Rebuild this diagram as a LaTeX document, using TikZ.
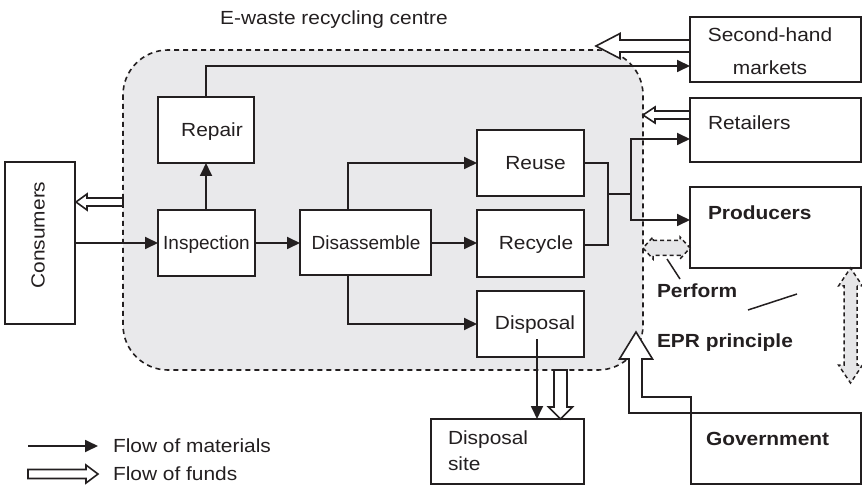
\documentclass[tikz,border=0pt]{standalone}
\usepackage{fontspec}
\setmainfont{Liberation Sans}[FakeStretch=1.1]
\newfontfamily\narrowsans{Liberation Sans}
\usetikzlibrary{arrows.meta,calc}

\definecolor{ink}{HTML}{231F20}
\definecolor{zone}{HTML}{E9E9EB}
\definecolor{shared}{HTML}{E6E6E8}

% hollow one-headed arrow: style, tail, tip, shaft half-width, head half-width, head length
\newcommand\hollowarrow[6]{%
  \draw[#1] let \p1=(#2), \p2=(#3), \n1={veclen(\x2-\x1,\y2-\y1)},
      \n2={(\x2-\x1)/\n1}, \n3={(\y2-\y1)/\n1} in
    (\x1-#4pt*\n3, \y1+#4pt*\n2)
    -- (\x2-#6pt*\n2-#4pt*\n3, \y2-#6pt*\n3+#4pt*\n2)
    -- (\x2-#6pt*\n2-#5pt*\n3, \y2-#6pt*\n3+#5pt*\n2)
    -- (\x2,\y2)
    -- (\x2-#6pt*\n2+#5pt*\n3, \y2-#6pt*\n3-#5pt*\n2)
    -- (\x2-#6pt*\n2+#4pt*\n3, \y2-#6pt*\n3-#4pt*\n2)
    -- (\x1+#4pt*\n3, \y1-#4pt*\n2) -- cycle;}

% hollow two-headed arrow: style, end A, end B, shaft half-width, head half-width, head length
\newcommand\twowayarrow[6]{%
  \draw[#1] let \p1=(#2), \p2=(#3), \n1={veclen(\x2-\x1,\y2-\y1)},
      \n2={(\x2-\x1)/\n1}, \n3={(\y2-\y1)/\n1} in
    (\x1+#6pt*\n2-#4pt*\n3, \y1+#6pt*\n3+#4pt*\n2)
    -- (\x2-#6pt*\n2-#4pt*\n3, \y2-#6pt*\n3+#4pt*\n2)
    -- (\x2-#6pt*\n2-#5pt*\n3, \y2-#6pt*\n3+#5pt*\n2)
    -- (\x2,\y2)
    -- (\x2-#6pt*\n2+#5pt*\n3, \y2-#6pt*\n3-#5pt*\n2)
    -- (\x2-#6pt*\n2+#4pt*\n3, \y2-#6pt*\n3-#4pt*\n2)
    -- (\x1+#6pt*\n2+#4pt*\n3, \y1+#6pt*\n3-#4pt*\n2)
    -- (\x1+#6pt*\n2+#5pt*\n3, \y1+#6pt*\n3-#5pt*\n2)
    -- (\x1,\y1)
    -- (\x1+#6pt*\n2-#5pt*\n3, \y1+#6pt*\n3+#5pt*\n2) -- cycle;}

\begin{document}
\begin{tikzpicture}[x=1pt,y=-1pt,
  every node/.style={inner sep=0pt, outer sep=0pt},
  inbox/.style={draw=ink, line width=2.6pt, fill=white},
  outbox/.style={draw=ink, line width=1.8pt, fill=white},
  lbl/.style={font=\fontsize{19}{22}\selectfont, text=ink},
  nlbl/.style={font=\fontsize{19}{22}\selectfont\narrowsans, text=ink},
  blbl/.style={font=\fontsize{19}{22}\selectfont\bfseries, text=ink},
  mat/.style={draw=ink, line width=1.8pt, -{Triangle[length=13pt,width=12pt]}},
  plain/.style={draw=ink, line width=1.8pt},
  funds/.style={draw=ink, line width=1.6pt, fill=white, line join=miter},
  share/.style={draw=ink, line width=1.5pt, dash pattern=on 4pt off 3pt, fill=shared, line join=miter},
  zonestyle/.style={draw=ink, line width=1.6pt, dash pattern=on 5pt off 4pt, fill=zone, rounded corners=45pt},
]
\useasboundingbox (0,0) rectangle (862,486);

% recycling centre area
\draw[zonestyle] (123,50) rectangle (643,370);
\node[lbl, anchor=base] (ctitle) at (334,25) {E-waste recycling centre};

% boxes inside the centre
\node[inbox, minimum width=96pt, minimum height=66pt] (rep) at (206,130) {};
\node[inbox, minimum width=97pt, minimum height=66pt] (insp) at (206.5,243) {};
\node[inbox, minimum width=131pt, minimum height=65pt] (dis) at (365.5,242.5) {};
\node[inbox, minimum width=107pt, minimum height=66pt] (reu) at (530.5,163) {};
\node[inbox, minimum width=107pt, minimum height=67pt] (rec) at (530.5,243.5) {};
\node[inbox, minimum width=107pt, minimum height=66pt] (dsp) at (530.5,324) {};

\node[lbl, anchor=base] (trep) at (212,137) {Repair};
\node[nlbl, anchor=base] (tinsp) at (206.5,250) {Inspection};
\node[nlbl, anchor=base] (tdis) at (366,250) {Disassemble};
\node[lbl, anchor=base] (treu) at (535.5,170) {Reuse};
\node[lbl, anchor=base] (trec) at (536,250) {Recycle};
\node[lbl, anchor=base] (tdsp) at (535,330) {Disposal};

% outside actors
\node[outbox, minimum width=70pt, minimum height=162pt] (cons) at (40,243) {};
\node[lbl, rotate=90] (tcons) at (38,235) {Consumers};
\node[outbox, minimum width=171pt, minimum height=65pt] (shm) at (775.5,49.5) {};
\node[lbl, anchor=base] (tshm1) at (770,42) {Second-hand};
\node[lbl, anchor=base] (tshm2) at (770,75) {markets};
\node[outbox, minimum width=171pt, minimum height=64pt] (ret) at (775.5,130) {};
\node[lbl, anchor=base west] (tret) at (708,130) {Retailers};
\node[outbox, minimum width=171pt, minimum height=81pt] (prod) at (775.5,227.5) {};
\node[blbl, anchor=base west] (tprod) at (708,220) {Producers};
\node[outbox, minimum width=170pt, minimum height=71pt] (gov) at (776,448.5) {};
\node[blbl, anchor=base west] (tgov) at (706,445) {Government};
\node[outbox, minimum width=153pt, minimum height=65pt] (site) at (507.5,451.5) {};
\node[lbl, anchor=base west] (tsite1) at (448,444) {Disposal};
\node[lbl, anchor=base west] (tsite2) at (448,470) {site};

% flow of materials
\draw[mat] (cons.east |- insp.west) -- (insp.west);
\draw[mat] (insp.north -| rep.south) -- (rep.south);
\draw[mat] (rep.north) |- ([yshift=-16.5pt]shm.west);
\draw[mat] (insp.east) -- (dis.west |- insp.east);
\coordinate (dtop) at ([xshift=-17.5pt]dis.north);
\coordinate (dbot) at ([xshift=-17.5pt]dis.south);
\draw[mat] (dtop) |- (reu.west);
\coordinate (recin) at ([yshift=0.5pt]rec.west);
\draw[mat] (dis.east |- recin) -- (recin);
\draw[mat] (dbot) |- (dsp.west);
\coordinate (jn) at (608,194);
\coordinate (jr) at (631,194);
\draw[plain] (reu.east) -| (jn) |- ([yshift=-1.5pt]rec.east);
\draw[plain] (jn) -- (jr);
\draw[mat] (jr) |- ([yshift=-9pt]ret.west);
\draw[mat] (jr) |- ([yshift=7.5pt]prod.west);
\coordinate (dout) at ([xshift=6.5pt,yshift=-15pt]dsp.center);
\draw[mat] (dout) -- (dout |- site.north);

% flow of funds
\coordinate (shmtip) at (596,46);
\coordinate (rettip) at (643,115);
\coordinate (constip) at (76,202);
\coordinate (zonebase) at (560.5,370);
\hollowarrow{funds}{shm.west |- shmtip}{shmtip}{6}{12.5}{24}
\hollowarrow{funds}{ret.west |- rettip}{rettip}{4}{8}{12}
\hollowarrow{funds}{123,202}{constip}{4}{8}{11}
\hollowarrow{funds}{zonebase}{zonebase |- site.north}{6.5}{12}{12}

% funds from government, bent upward
\coordinate (gtip) at (636,332);
\draw[funds] ($(gov.north west)+(0,-16)$) -- ($(gtip)+(6,65)$) -- ($(gtip)+(6,27)$)
  -- ($(gtip)+(16.5,27)$) -- (gtip) -- ($(gtip)+(-16.5,27)$) -- ($(gtip)+(-7,27)$)
  -- ($(gtip)+(-7,81)$) -- (gov.north west) -- cycle;

% shared responsibility arrows
\coordinate (perfA) at (643,248);
\twowayarrow{share}{perfA}{prod.west |- perfA}{7.5}{11}{10}
\coordinate (vA) at (850.5,268);
\coordinate (vB) at (850.5,383);
\twowayarrow{share}{vA}{vB}{6.5}{12}{18}

\node[blbl, anchor=base west] (tperf) at (657,298) {Perform};
\node[blbl, anchor=base west] (tepr) at (657,348) {EPR principle};
\coordinate (p1a) at (667,259);
\coordinate (p1b) at (680,279);
\draw[ink, line width=1.5pt] (p1a) -- (p1b);
\coordinate (p2a) at (748,310);
\coordinate (p2b) at (797,294);
\draw[ink, line width=1.5pt] (p2a) -- (p2b);

% legend
\coordinate (lm1) at (28,446);
\coordinate (lm2) at (98,446);
\draw[mat] (lm1) -- (lm2);
\node[lbl, anchor=west] (tlm) at (113,446) {Flow of materials};
\coordinate (lf1) at (28,474);
\coordinate (lf2) at (98,474);
\hollowarrow{funds}{lf1}{lf2}{4.5}{9}{12}
\node[lbl, anchor=west] (tlf) at (113,474) {Flow of funds};
\end{tikzpicture}
\end{document}
